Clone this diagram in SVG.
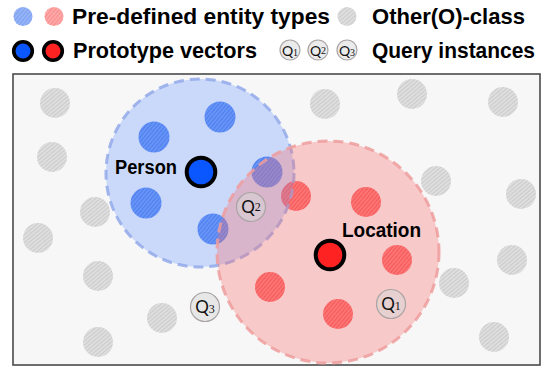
<svg xmlns="http://www.w3.org/2000/svg" width="545" height="369" viewBox="0 0 545 369">
<defs>
  <pattern id="hG" width="3" height="3" patternUnits="userSpaceOnUse" patternTransform="rotate(-40)">
    <rect width="3" height="3" fill="#dadada"/>
    <line x1="0" y1="0.5" x2="3" y2="0.5" stroke="#c8c8c8" stroke-width="0.8"/>
    <line x1="0" y1="2" x2="3" y2="2" stroke="#e8e8e8" stroke-width="0.6"/>
  </pattern>
  <pattern id="hB" width="3" height="3" patternUnits="userSpaceOnUse" patternTransform="rotate(-50)">
    <rect width="3" height="3" fill="#5b8cf2"/>
    <line x1="0" y1="0.5" x2="3" y2="0.5" stroke="#3f6fe6" stroke-width="0.8"/>
    <line x1="0" y1="2" x2="3" y2="2" stroke="#86a8f6" stroke-width="0.6"/>
  </pattern>
  <pattern id="hR" width="3" height="3" patternUnits="userSpaceOnUse" patternTransform="rotate(-50)">
    <rect width="3" height="3" fill="#ff6a6a"/>
    <line x1="0" y1="0.5" x2="3" y2="0.5" stroke="#f04848" stroke-width="0.8"/>
    <line x1="0" y1="2" x2="3" y2="2" stroke="#ff9a9a" stroke-width="0.6"/>
  </pattern>
</defs>
<style>
  .lbl{font-family:"Liberation Sans",Arial,sans-serif;font-weight:bold;fill:#000;}
  .gray{fill:url(#hG);}
  .blue{fill:url(#hB);}
  .red{fill:url(#hR);}
  .protoB{fill:#0b57ff;stroke:#000;}
  .protoR{fill:#ff2222;stroke:#000;}
  .q{fill:#d8d8d8;fill-opacity:0.5;stroke:#aaa4a4;stroke-width:1.2;}
  .qt{font-family:Lato,"Liberation Sans",sans-serif;fill:#111;text-anchor:middle;}
  .qd{font-family:"Liberation Serif",serif;}
  .regB{fill:#6496ff;fill-opacity:0.3;stroke:#93a9ea;stroke-opacity:0.85;stroke-width:3;stroke-dasharray:10 6;}
  .regR{fill:#fa6e6e;fill-opacity:0.33;stroke:#ee9c9c;stroke-opacity:0.85;stroke-width:3;stroke-dasharray:10 6;}
</style>

<g id="legend">
  <circle class="blue" cx="23" cy="16.5" r="9.5" opacity="0.7"/>
  <circle class="red" cx="54" cy="16.5" r="9.5" opacity="0.65"/>
  <text class="lbl" x="72" y="23.5" font-size="22" textLength="258" lengthAdjust="spacingAndGlyphs">Pre-defined entity types</text>
  <circle class="gray" cx="347" cy="16.5" r="9.5"/>
  <text class="lbl" x="372" y="23.5" font-size="22" textLength="153" lengthAdjust="spacingAndGlyphs">Other(O)-class</text>
  <circle class="protoB" cx="23" cy="51" r="9.3" stroke-width="3.6"/>
  <circle class="protoR" cx="53" cy="51" r="9.3" stroke-width="3.6"/>
  <text class="lbl" x="73" y="57.5" font-size="22" textLength="184" lengthAdjust="spacingAndGlyphs">Prototype vectors</text>
  <circle class="q" cx="290" cy="50" r="10" stroke-width="1"/>
  <text class="qt" x="290" y="55.5" font-size="14">Q<tspan class="qd" font-size="10">1</tspan></text>
  <circle class="q" cx="318" cy="50" r="10" stroke-width="1"/>
  <text class="qt" x="318" y="55.5" font-size="14">Q<tspan class="qd" font-size="10" dy="-1.5">2</tspan></text>
  <circle class="q" cx="347" cy="50" r="10" stroke-width="1"/>
  <text class="qt" x="347" y="55.5" font-size="14">Q<tspan class="qd" font-size="10">3</tspan></text>
  <text class="lbl" x="372" y="57.5" font-size="22" textLength="163" lengthAdjust="spacingAndGlyphs">Query instances</text>
</g>

<g id="panel">
  <rect x="13" y="74" width="527" height="291" fill="#f7f7f7" stroke="#4a4a4a" stroke-width="1.6"/>
</g>

<g id="other-class">
  <circle class="gray" cx="55" cy="103" r="15"/>
  <circle class="gray" cx="52" cy="157" r="15"/>
  <circle class="gray" cx="95" cy="212" r="15"/>
  <circle class="gray" cx="38" cy="238" r="15"/>
  <circle class="gray" cx="98" cy="276" r="15"/>
  <circle class="gray" cx="162" cy="318" r="15"/>
  <circle class="gray" cx="98" cy="342" r="15"/>
  <circle class="gray" cx="325" cy="104" r="15"/>
  <circle class="gray" cx="412" cy="94" r="15"/>
  <circle class="gray" cx="503" cy="102" r="15"/>
  <circle class="gray" cx="436" cy="181" r="15"/>
  <circle class="gray" cx="521" cy="194" r="15"/>
  <circle class="gray" cx="512" cy="260" r="15"/>
  <circle class="gray" cx="454" cy="283" r="15"/>
  <circle class="gray" cx="494" cy="337" r="15"/>
</g>

<g id="person-instances">
  <circle class="blue" cx="154" cy="137" r="15.5"/>
  <circle class="blue" cx="220" cy="117" r="15.5"/>
  <circle class="blue" cx="146" cy="203" r="15.5"/>
  <circle class="blue" cx="267" cy="172" r="15.5"/>
  <circle class="blue" cx="213" cy="229" r="15.5"/>
</g>

<g id="location-instances">
  <circle class="red" cx="296" cy="196" r="15"/>
  <circle class="red" cx="366" cy="202" r="15"/>
  <circle class="red" cx="270" cy="287" r="15"/>
  <circle class="red" cx="397" cy="260" r="15"/>
  <circle class="red" cx="338" cy="314" r="15"/>
</g>

<g id="person-region">
  <circle class="regB" cx="200" cy="173" r="94"/>
</g>
<g id="location-region">
  <circle class="regR" cx="328" cy="252" r="111"/>
</g>

<g id="queries">
  <circle class="q" cx="251" cy="207" r="14.5"/>
  <text class="qt" x="251" y="213" font-size="17">Q<tspan class="qd" font-size="12" dy="-2.5">2</tspan></text>
  <circle class="q" cx="205" cy="307" r="14.5"/>
  <text class="qt" x="205" y="313" font-size="17">Q<tspan class="qd" font-size="12">3</tspan></text>
  <circle class="q" cx="391" cy="304" r="14.5"/>
  <text class="qt" x="391" y="310" font-size="17">Q<tspan class="qd" font-size="12">1</tspan></text>
</g>

<g id="person">
  <circle class="protoB" cx="201" cy="172" r="14.3" stroke-width="4"/>
  <text class="lbl" x="115" y="174" font-size="20" textLength="62" lengthAdjust="spacingAndGlyphs">Person</text>
</g>
<g id="location">
  <circle class="protoR" cx="330" cy="255" r="14.3" stroke-width="4"/>
  <text class="lbl" x="342" y="237" font-size="20" textLength="79" lengthAdjust="spacingAndGlyphs">Location</text>
</g>
</svg>
